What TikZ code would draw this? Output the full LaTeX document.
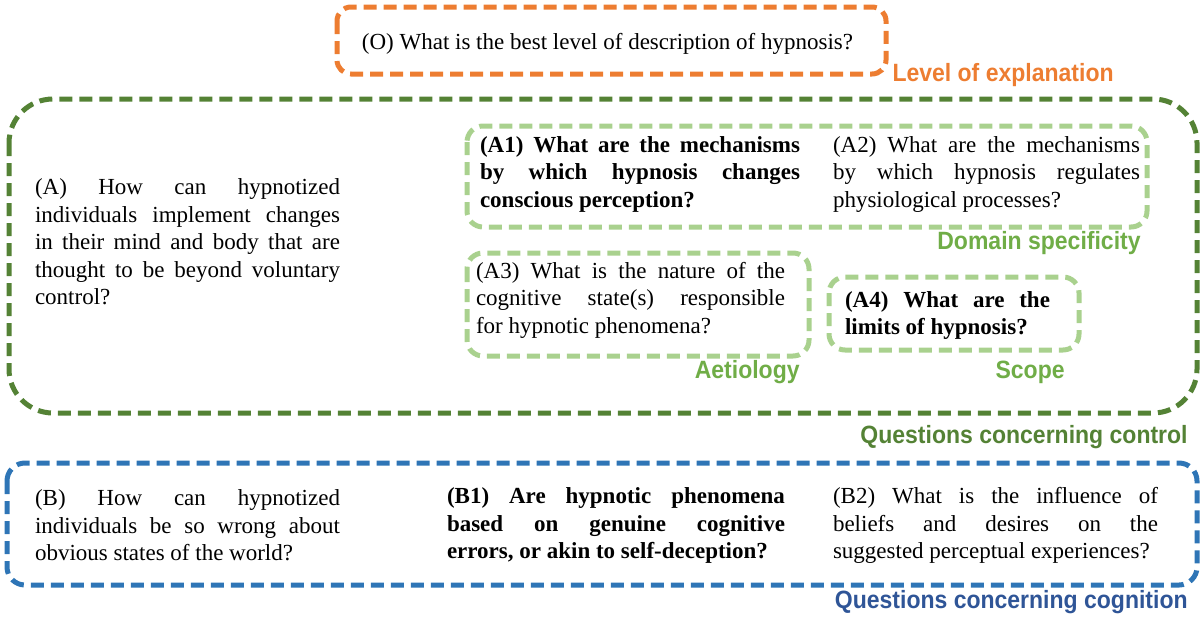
\documentclass[tikz,border=0pt]{standalone}
\usepackage{fontspec}
\setmainfont{Liberation Serif}
\newfontfamily\labelfont{Liberation Sans}[FakeStretch=0.92]
\usetikzlibrary{positioning}

\definecolor{expl}{HTML}{ED7D31}
\definecolor{ctrl}{HTML}{548235}
\definecolor{sub}{HTML}{A9D18E}
\definecolor{subtag}{HTML}{70AD47}
\definecolor{cogn}{HTML}{2E75B6}
\definecolor{cogntag}{HTML}{2F5597}
\hyphenpenalty=10000
\hbadness=10000

\begin{document}
\begin{tikzpicture}[x=0.5pt,y=-0.5pt,
    qtext/.style={align=justify,inner sep=0pt,font=\fontsize{11.5}{13.75}\selectfont},
    qbold/.style={qtext,font=\fontsize{11.5}{13.75}\selectfont\bfseries},
    frame/.style={line width=2.5pt,dash pattern=on 6.5pt off 3.5pt},
    tag/.style={anchor=base east,inner sep=0pt,font=\labelfont\bfseries\fontsize{12.5}{14}\selectfont}]
  \useasboundingbox (0,0) rectangle (1202,621);

  % level of explanation
  \draw [frame,expl,rounded corners=7pt] (337,7) rectangle (886,74);
  \node[qtext] (qO) at (607.5,44) {(O) What is the best level of description of hypnosis?};
  \node[tag,expl] (tagO) at (1114,81) {Level of explanation};

  % control
  \draw [frame,ctrl,rounded corners=22pt] (9,99) rectangle (1197,413);
  \node[qtext,text width=152.5pt] (qA) at (187.5,242) {(A) How can hypnotized\linebreak individuals implement changes\linebreak in their mind and body that are\linebreak thought to be beyond voluntary\linebreak control?};
  \node[tag,ctrl] (tagA) at (1188,443) {Questions concerning control};

  \draw [frame,sub,rounded corners=8pt] (467,126) rectangle (1147,227);
  \node[qbold,text width=160pt] (qA1) at (640,174) {(A1) What are the mechanisms\linebreak by which hypnosis changes\linebreak conscious perception?};
  \node[qtext,text width=153.5pt] (qA2) at (986.5,174) {(A2) What are the mechanisms\linebreak by which hypnosis regulates\linebreak physiological processes?};
  \node[tag,subtag] (tagA12) at (1141,249) {Domain specificity};

  \draw [frame,sub,rounded corners=8pt] (467,253) rectangle (809,356);
  \node[qtext,text width=154.5pt] (qA3) at (630.5,300) {(A3) What is the nature of the\linebreak cognitive state(s) responsible\linebreak for hypnotic phenomena?};
  \node[tag,subtag] (tagA3) at (800,378) {Aetiology};

  \draw [frame,sub,rounded corners=8pt] (829,277) rectangle (1079,350);
  \node[qbold,text width=102.5pt] (qA4) at (947.5,315.5) {(A4) What are the\linebreak limits of hypnosis?};
  \node[tag,subtag] (tagA4) at (1065,378) {Scope};

  % cognition
  \draw [frame,cogn,rounded corners=9pt] (7,463) rectangle (1197,585);
  \node[qtext,text width=152.5pt] (qB) at (187.5,525.5) {(B) How can hypnotized\linebreak individuals be so wrong about\linebreak obvious states of the world?};
  \node[qbold,text width=169pt] (qB1) at (616,525.5) {(B1) Are hypnotic phenomena\linebreak based on genuine cognitive\linebreak errors, or akin to self-deception?};
  \node[qtext,text width=162.5pt] (qB2) at (995.5,525.5) {(B2) What is the influence of\linebreak beliefs and desires on the\linebreak suggested perceptual experiences?};
  \node[tag,cogntag] (tagB) at (1188,608) {Questions concerning cognition};
\end{tikzpicture}
\end{document}
